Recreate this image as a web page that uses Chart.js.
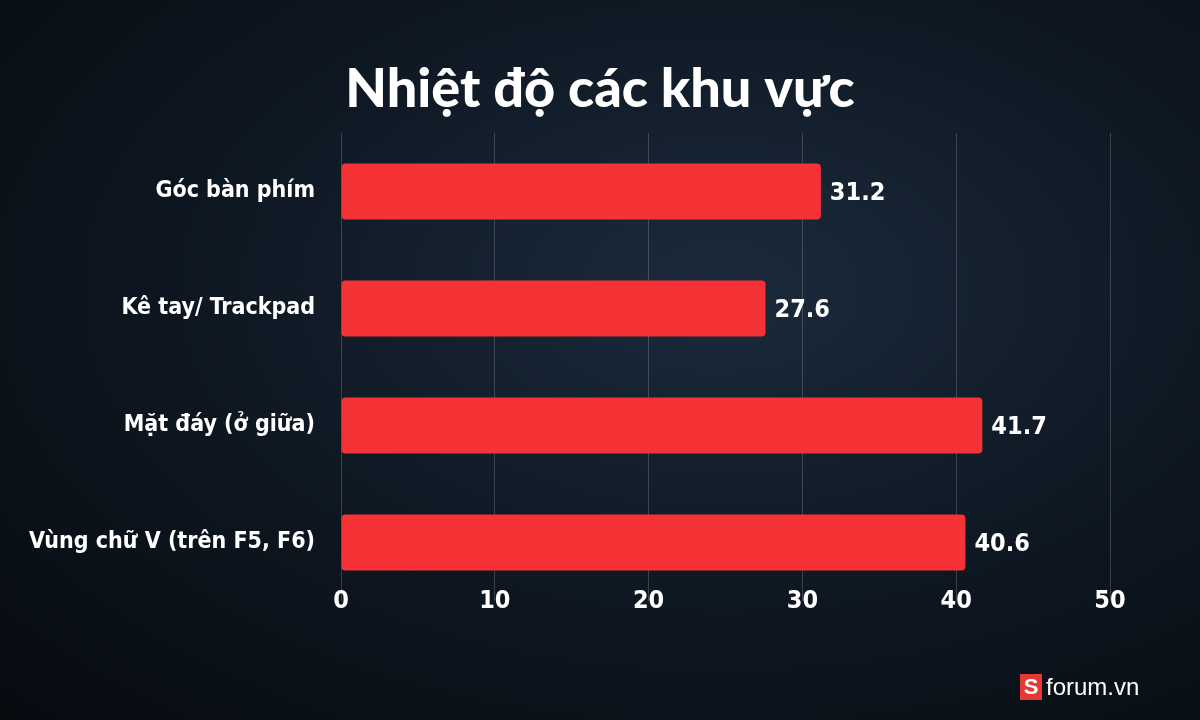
<!DOCTYPE html>
<html><head><meta charset="utf-8">
<script src="https://cdn.jsdelivr.net/npm/chart.js@4/dist/chart.umd.min.js"></script>
<style>
html,body{margin:0;padding:0;width:1200px;height:720px;overflow:hidden;}
body{background:radial-gradient(ellipse at 60% 40%, #1b2a3c 0%, #0d1620 55%, #070b10 100%);}
canvas{position:absolute;left:0;top:0;}
</style></head><body>
<canvas id="c" width="1200" height="720"></canvas>
<script>
const titleText = "Nhiệt độ các khu vực";
const categories = ["Góc bàn phím", "Kê tay/ Trackpad", "Mặt đáy (ở giữa)", "Vùng chữ V (trên F5, F6)"];
const values = [31.2, 27.6, 41.7, 40.6];
const xTicks = [0, 10, 20, 30, 40, 50];
const condensed = "'DejaVu Sans Condensed', 'Roboto', sans-serif";

const extras = {
  id: 'extras',
  afterDraw(chart) {
    const ctx = chart.ctx;
    const meta = chart.getDatasetMeta(0);
    const xs = chart.scales.x;
    ctx.save();
    ctx.fillStyle = '#ffffff';
    ctx.font = "bold 25px " + condensed;
    ctx.textBaseline = 'middle';
    meta.data.forEach((bar, i) => {
      ctx.fillText(values[i].toFixed(1), bar.x + 9, bar.y + 2);
    });
    ctx.textAlign = 'center';
    xTicks.forEach(v => ctx.fillText(String(v), xs.getPixelForValue(v), 601));
    ctx.font = "900 54px 'Lato', 'Noto Sans', sans-serif";
    ctx.fillText(titleText, 600, 90);
    ctx.fillStyle = '#e53935';
    ctx.fillRect(1020, 674, 22, 26);
    ctx.fillStyle = '#fff';
    ctx.font = "bold 22px 'Liberation Sans', sans-serif";
    ctx.fillText('S', 1031, 688);
    ctx.textAlign = 'left';
    ctx.font = "24px 'Liberation Sans', sans-serif";
    ctx.fillText('forum.vn', 1046, 688);
    ctx.restore();
  }
};

new Chart(document.getElementById('c'), {
  type: 'bar',
  data: {
    labels: categories,
    datasets: [{
      data: values,
      backgroundColor: '#f53236',
      borderRadius: 4,
      borderSkipped: false,
      categoryPercentage: 0.96,
      barPercentage: 0.5
    }]
  },
  options: {
    indexAxis: 'y',
    responsive: false,
    animation: false,
    layout: { padding: { top: 133, right: 90, bottom: 119, left: 0 } },
    plugins: { legend: { display: false }, tooltip: { enabled: false } },
    scales: {
      x: {
        min: 0, max: 50,
        afterBuildTicks(s) { s.ticks = xTicks.map(v => ({ value: v })); },
        grid: { color: 'rgba(255,255,255,0.18)', drawTicks: false },
        border: { display: false },
        ticks: { display: false }
      },
      y: {
        afterFit(s) { s.width = 341; },
        grid: { display: false },
        border: { display: false },
        ticks: { color: '#fff', padding: 18, font: { family: condensed, size: 23, weight: 'bold' } }
      }
    }
  },
  plugins: [extras]
});
</script>
</body></html>
